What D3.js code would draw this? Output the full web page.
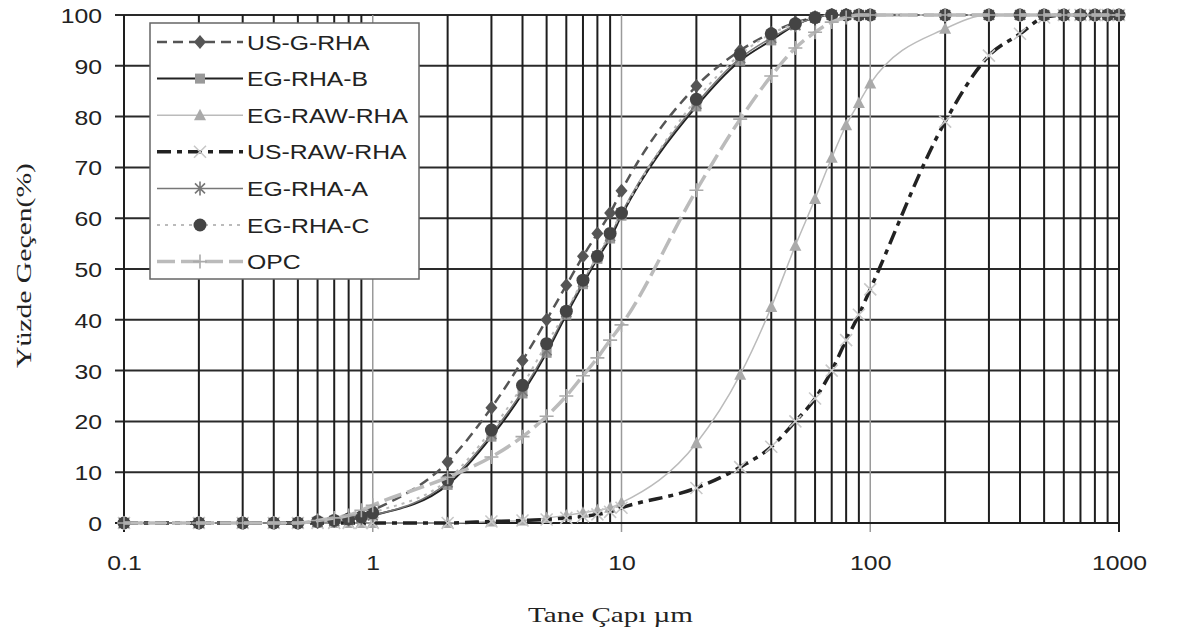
<!DOCTYPE html>
<html><head><meta charset="utf-8">
<script src="https://cdn.jsdelivr.net/npm/d3@7"></script>
<style>body{margin:0;background:#fff}svg{display:block}</style>
</head><body><svg id="c" width="1180" height="635"></svg>
<script>
// ---- data ----
const sizes = [0.1,0.2,0.3,0.4,0.5,0.6,0.7,0.8,0.9,1,2,3,4,5,6,7,8,9,10,20,30,40,50,60,70,80,90,100,200,300,400,500,600,700,800,900,1000];
const seriesNames = ["US-G-RHA","EG-RHA-B","EG-RAW-RHA","US-RAW-RHA","EG-RHA-A","EG-RHA-C","OPC"];
const usGRha   = [0,0,0,0,0,0.3,0.6,1,1.5,2.5, 12,22.7,32,40,46.8,52.5,57,61,65.4, 86,93,96.5,98.5,99.5,100,100,100,100, 100,100,100,100,100,100,100,100,100];
const egRhaB   = [0,0,0,0,0,0.2,0.4,0.7,1,1.5, 7.5,17,25.5,33.5,41,47,52,56,60.5, 82,91,95,98,99.5,100,100,100,100, 100,100,100,100,100,100,100,100,100];
const egRawRha = [0,0,0,0,0,0,0,0,0,0, 0,0.3,0.5,1,1.5,2,2.5,3,4, 15.7,29.2,42.5,54.6,63.8,71.9,78.3,82.7,86.5, 97.3,100,100,100,100,100,100,100,100];
const usRawRha = [0,0,0,0,0,0,0,0,0,0, 0,0.3,0.5,0.7,1,1.3,1.7,2.2,3, 6.9,11,15,20,24.5,30,36,41,46, 79,92,96.3,99.5,100,100,100,100,100];
const egRhaA   = [0,0,0,0,0,0.2,0.4,0.7,1,1.5, 8,17.5,26,34,41.5,47.5,52.5,56.5,61, 82.5,91.5,95.5,98,99.5,100,100,100,100, 100,100,100,100,100,100,100,100,100];
const egRhaC   = [0,0,0,0,0,0.3,0.5,0.8,1.2,2, 8.5,18.3,27.1,35.3,41.7,47.8,52.5,57,61, 83.4,92.2,96.3,98.3,99.5,100,100,100,100, 100,100,100,100,100,100,100,100,100];
const opc      = [0,0,0,0,0,0.5,1,1.5,2.5,3.5, 9,13,17,21,25,29,32.5,36,39, 65.5,79.5,88,93.5,96.6,98.6,99.5,100,100, 100,100,100,100,100,100,100,100,100];
const xTickValues = [0.1,1,10,100,1000];
const xTickLabels = ["0.1","1","10","100","1000"];
const yTickValues = [0,10,20,30,40,50,60,70,80,90,100];
const xTitle = "Tane Çapı µm";
const yTitle = "Yüzde Geçen(%)";

// ---- styles ----
const seriesValues = [usGRha, egRhaB, egRawRha, usRawRha, egRhaA, egRhaC, opc];
const styles = [
  {stroke:"#555", width:2.5, dash:"10,6", marker:"diamond", mcolor:"#555"},
  {stroke:"#222", width:2,   dash:null,   marker:"square",  mcolor:"#999"},
  {stroke:"#bbb", width:1.5, dash:null,   marker:"triangle",mcolor:"#aaa"},
  {stroke:"#222", width:3.5, dash:"14,6,5,6", marker:"x",   mcolor:"#c8c8c8"},
  {stroke:"#777", width:1.5, dash:null,   marker:"star",    mcolor:"#777"},
  {stroke:"#bbb", width:2,   dash:"3,5",  marker:"circle",  mcolor:"#444"},
  {stroke:"#bbb", width:3.5, dash:"18,6", marker:"plus",    mcolor:"#aaa"}
];

const svg = d3.select("#c");
svg.append("rect").attr("width",1180).attr("height",635).attr("fill","#fff");
const x = d3.scaleLog().domain([0.1,1000]).range([124,1119]);
const y = d3.scaleLinear().domain([0,100]).range([523,15]);
const SX = 1.18;
const sans = "'Liberation Sans', Arial, sans-serif";

// ---- grid ----
const grid = svg.append("g");
const vVals = [];
[0.1,1,10,100].forEach(d => { for (let k=1;k<=9;k++) vVals.push({v:+(d*k).toPrecision(3), major:k===1}); });
vVals.push({v:1000, major:true});
grid.selectAll("line.h").data(yTickValues.filter(v=>v>0)).join("line")
  .attr("x1", x(0.1)-9).attr("x2", x(1000)).attr("y1", d=>y(d)).attr("y2", d=>y(d))
  .attr("stroke","#2a2a2a").attr("stroke-width",2);
grid.selectAll("line.v").data(vVals).join("line")
  .attr("x1", d=>x(d.v)).attr("x2", d=>x(d.v))
  .attr("y1", y(100)).attr("y2", d=> d.major ? y(0)+9 : y(0))
  .attr("stroke", d => (d.major && d.v!==0.1 && d.v!==1000) ? "#9a9a9a" : "#1e1e1e")
  .attr("stroke-width", d => (d.major && d.v!==0.1 && d.v!==1000) ? 1.5 : 2);
// bottom axis line & y ticks
grid.append("line").attr("x1",x(0.1)).attr("x2",x(1000)).attr("y1",y(0)).attr("y2",y(0)).attr("stroke","#1e1e1e").attr("stroke-width",2);
grid.append("line").attr("x1",x(0.1)-9).attr("x2",x(0.1)).attr("y1",y(0)).attr("y2",y(0)).attr("stroke","#1e1e1e").attr("stroke-width",2);

// ---- axes labels via d3 axes ----
const xAxis = d3.axisBottom(x).tickValues(xTickValues).tickFormat((d,i)=>xTickLabels[i]).tickSize(0);
const gx = svg.append("g").attr("transform",`translate(0,${y(0)})`).call(xAxis);
gx.select(".domain").remove();
gx.selectAll("text").attr("y",47).attr("dy",null).attr("font-size",21).attr("font-family",sans)
  .attr("fill","#222").attr("transform",`scale(${SX},1)`);
const yAxis = d3.axisLeft(y).tickValues(yTickValues).tickSize(0);
const gy = svg.append("g").attr("transform",`translate(${x(0.1)},0)`).call(yAxis);
gy.select(".domain").remove();
gy.selectAll("text").attr("x",-22/SX).attr("dy","0.36em").attr("font-size",21).attr("font-family",sans)
  .attr("fill","#222").attr("transform",`scale(${SX},1)`);

// ---- titles ----
svg.append("text").attr("x",528).attr("y",622).attr("font-family","'Liberation Serif','Times New Roman',serif")
  .attr("font-size",21).attr("fill","#222").attr("textLength",165).attr("lengthAdjust","spacingAndGlyphs").text(xTitle);
svg.append("text").attr("transform","translate(31,368) rotate(-90)").attr("font-family","'Liberation Serif','Times New Roman',serif")
  .attr("font-size",21).attr("fill","#222").attr("textLength",205).attr("lengthAdjust","spacingAndGlyphs").text(yTitle);

// ---- markers ----
function marker(g, type, color) {
  switch(type) {
    case "diamond": g.append("path").attr("d","M0,-7L6,0L0,7L-6,0Z").attr("fill",color); break;
    case "square": g.append("rect").attr("x",-5).attr("y",-5).attr("width",10).attr("height",10).attr("fill",color); break;
    case "triangle": g.append("path").attr("d","M0,-6.5L6,5L-6,5Z").attr("fill",color); break;
    case "x": g.append("path").attr("d","M-6,-6L6,6M-6,6L6,-6").attr("stroke",color).attr("stroke-width",1.6).attr("fill","none"); break;
    case "star": g.append("path").attr("d","M-5,-5L5,5M-5,5L5,-5M0,-7L0,7").attr("stroke",color).attr("stroke-width",1.6).attr("fill","none"); break;
    case "circle": g.append("circle").attr("r",6.5).attr("fill",color); break;
    case "plus": g.append("path").attr("d","M-7,0L7,0M0,-7L0,7").attr("stroke",color).attr("stroke-width",1.6).attr("fill","none"); break;
  }
}

// ---- series ----
const line = d3.line().x(d=>x(d[0])).y(d=>y(d[1])).curve(d3.curveMonotoneX);
const plot = svg.append("g");
seriesValues.forEach((vals, si) => {
  const st = styles[si];
  const pts = sizes.map((s,i)=>[s, vals[i]]);
  const sg = plot.append("g");
  sg.append("path").attr("d", line(pts)).attr("fill","none").attr("stroke",st.stroke)
    .attr("stroke-width",st.width).attr("stroke-dasharray",st.dash);
  pts.forEach(p => marker(sg.append("g").attr("transform",`translate(${x(p[0])},${y(p[1])})`), st.marker, st.mcolor));
});

// ---- legend ----
const lg = svg.append("g");
lg.append("rect").attr("x",150).attr("y",23).attr("width",269).attr("height",256).attr("fill","#fff")
  .attr("stroke","#666").attr("stroke-width",1.5);
seriesNames.forEach((name, i) => {
  const st = styles[i];
  const ly = 42 + i*36.6;
  lg.append("line").attr("x1",157).attr("x2",243).attr("y1",ly).attr("y2",ly).attr("stroke",st.stroke)
    .attr("stroke-width",st.width).attr("stroke-dasharray",st.dash);
  marker(lg.append("g").attr("transform",`translate(200,${ly})`), st.marker, st.mcolor);
  lg.append("text").attr("transform",`translate(247,${ly}) scale(${SX},1)`).attr("dy","0.36em")
    .attr("font-size",21).attr("font-family",sans).attr("fill","#222").text(name);
});
</script></body></html>
